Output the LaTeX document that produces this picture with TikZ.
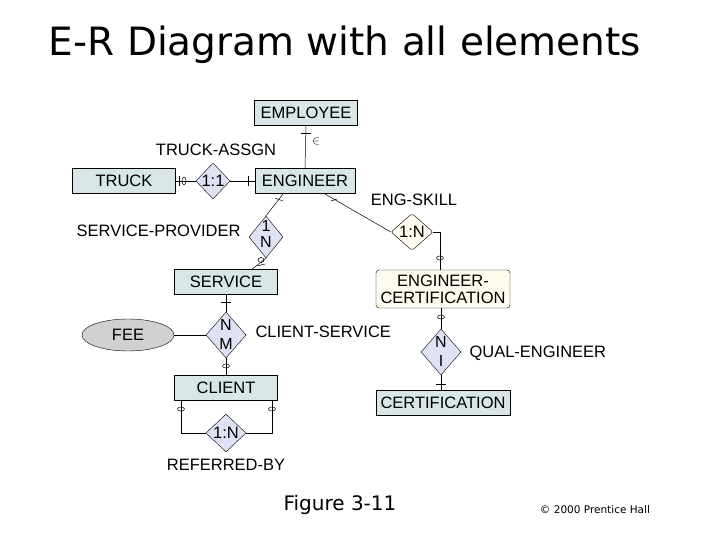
\documentclass[tikz,border=0pt]{standalone}
\usepackage{fontspec}
\setmainfont{Liberation Sans}
\newfontfamily\titlefont{DejaVu Sans}
\usetikzlibrary{shapes.geometric}
\definecolor{ent}{RGB}{216,230,232}
\definecolor{rel}{RGB}{222,226,244}
\definecolor{cream}{RGB}{253,251,238}
\definecolor{feeg}{RGB}{208,208,208}
\begin{document}
\begin{tikzpicture}[x=1pt,y=-1pt,
  ent/.style={draw,fill=ent,minimum width=103pt,minimum height=25pt,inner sep=0pt,font=\fontsize{16.5}{16}\selectfont},
  rel/.style={draw,diamond,fill=rel,inner sep=0pt,font=\fontsize{16.5}{16}\selectfont,align=center},
  st/.style={inner sep=0pt,font=\fontsize{16}{16}\selectfont},
  lab/.style={font=\fontsize{16.5}{16}\selectfont},
  ln/.style={line width=0.5pt},
  mk/.style={line width=0.5pt}]
\useasboundingbox (0,0) rectangle (720,540);
\node[font=\titlefont\fontsize{39}{39}\selectfont] (title) at (345,45) {E-R Diagram with all elements};
\node[ent] (emp) at (306,113) {EMPLOYEE};
\node[ent,minimum width=100pt] (eng) at (305,181) {ENGINEER};
\node[ent] (truck) at (124,181) {TRUCK};
\node[ent] (serv) at (226,282) {SERVICE};
\node[ent,fill=cream,rounded corners=3pt,minimum width=134pt,minimum height=38pt,align=center,font=\fontsize{16.5}{17}\selectfont] (ec) at (443,289) {ENGINEER-\\CERTIFICATION};
\node[ent,minimum width=134pt] (cert) at (443,403) {CERTIFICATION};
\node[ent] (client) at (226,388) {CLIENT};
\node[draw,ellipse,fill=feeg,minimum width=92pt,minimum height=32pt,font=\fontsize{16.5}{16}\selectfont] (fee) at (128,335) {FEE};
\node[rel,minimum width=34pt,minimum height=36pt] (tr) at (213,181) {1:1};
\node[rel,minimum width=34pt,minimum height=42pt] (sp) at (266,237) {};
\node[st] (sp1) at (266,226) {1}; \node[st] (sp2) at (266,242) {N};
\node[rel,fill=cream,minimum width=42pt,minimum height=34pt,rounded corners=2pt] (es) at (412,232) {1:N};
\node[rel,minimum width=40pt,minimum height=46pt] (cs) at (226,335) {};
\node[st] (cs1) at (226,325) {N}; \node[st] (cs2) at (226,344) {M};
\node[rel,minimum width=40pt,minimum height=46pt] (qe) at (441,352) {};
\node[st] (qe1) at (441,342) {N}; \node[st] (qe2) at (441,361) {I};
\node[rel,minimum width=40pt,minimum height=38pt] (rb) at (226,433) {1:N};
\node[lab] (l1) at (216,150) {TRUCK-ASSGN};
\node[lab,anchor=east] (l2) at (244,231) {SERVICE-PROVIDER};
\node[lab] (l3) at (414,200) {ENG-SKILL};
\node[lab,anchor=west] (l4) at (252,332) {CLIENT-SERVICE};
\node[lab,anchor=west] (l5) at (466,353) {QUAL-ENGINEER};
\node[lab] (l6) at (226,465) {REFERRED-BY};
\node[font=\titlefont\fontsize{20}{20}\selectfont] (fig) at (340,505) {Figure 3-11};
\node[font=\titlefont\fontsize{10.5}{10}\selectfont] (copy) at (595,510) {© 2000 Prentice Hall};
% connectors
\draw[ln] (emp.south) -- (eng.north);
\draw[mk] (301,133)--(311,133);
\node[font=\fontsize{12}{12}\selectfont] (in) at (316,142) {$\in$};
\draw[ln] (truck.east) -- (tr.west);
\draw[mk] (179,176)--(179,186); \draw[mk] (184,181) ellipse (2pt and 4pt);
\draw[ln] (tr.east) -- (eng.west);
\draw[mk] (248,176)--(248,186);
\coordinate (e1) at (283,194);
\draw[ln] (e1) -- (sp.north);
\draw[mk] (275,198)--(283,201);
\coordinate (s1) at (251,270);
\draw[ln] (sp.south) -- (s1);
\draw[mk] (261,260) ellipse (3pt and 2.5pt); \draw[mk] (257,266)--(265,264);
\coordinate (e2) at (325,194);
\draw[ln] (e2) -- (es.west);
\draw[mk] (331,201)--(337,199);
\coordinate (k1) at (440,232);
\draw[ln] (es.east) -- (k1) -- (ec.north -| k1);
\draw[mk] (440,258) ellipse (3.5pt and 2pt);
\draw[ln] (serv.south) -- (cs.north);
\draw[mk] (221,302)--(231,302);
\draw[ln] (fee.east) -- (cs.west);
\draw[ln] (cs.south) -- (client.north);
\draw[mk] (226,366) ellipse (3.5pt and 2pt);
\draw[ln] (ec.south -| qe) -- (qe.north);
\draw[mk] (441,317) ellipse (3.5pt and 2pt);
\draw[ln] (qe.south) -- (cert.north -| qe);
\draw[mk] (436,384)--(446,384);
\coordinate (c1) at (181,400); \coordinate (c2) at (272,400);
\draw[ln] (c1) |- (rb.west);
\draw[ln] (c2) |- (rb.east);
\draw[mk] (181,409) ellipse (3.5pt and 2pt);
\draw[mk] (272,409) ellipse (3.5pt and 2pt);
\end{tikzpicture}
\end{document}
